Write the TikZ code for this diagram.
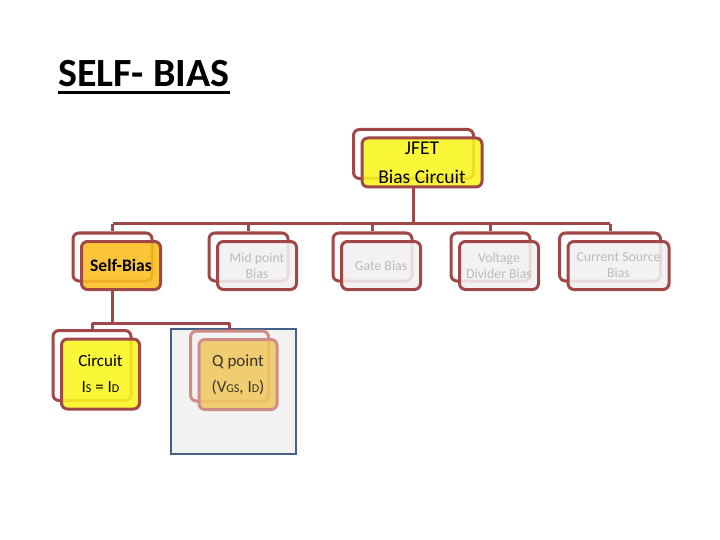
\documentclass[tikz,border=0pt]{standalone}
\usepackage{fontspec}
\setmainfont{Carlito}
\definecolor{linkred}{RGB}{160,72,72}
\definecolor{jfetyellow}{RGB}{250,246,30}
\definecolor{selforange}{RGB}{252,190,30}
\definecolor{offgray}{RGB}{242,240,240}
\definecolor{offtext}{RGB}{188,188,188}
\definecolor{qgold}{RGB}{240,200,95}
\definecolor{qrose}{RGB}{205,140,135}
\definecolor{panelblue}{RGB}{70,95,135}
\newcommand{\twinbox}[6]{%
  \node[backbox,#5,fill=none,minimum width=#3,minimum height=#4] (#1back) at #2 {};%
  \node[frontbox,#5,minimum width=#3,minimum height=#4,shift={(8.5,8.5)}] (#1) at #2 {#6};%
}
\tikzset{
  backbox/.style={draw=linkred,line width=3,rounded corners=6,inner sep=0},
  frontbox/.style={draw=linkred,line width=3,rounded corners=6,inner sep=0,
    fill opacity=0.88,text opacity=1,align=center},
  toplevel/.style={fill=jfetyellow,font=\fontsize{19.5}{29}\selectfont},
  chosen/.style={fill=selforange,font=\bfseries\fontsize{17.5}{18}\selectfont},
  unused/.style={fill=offgray,text=offtext,font=\fontsize{13.8}{16}\selectfont},
  leafbox/.style={fill=jfetyellow,font=\fontsize{17}{26}\selectfont},
  qbox/.style={fill=qgold,draw=qrose,text={rgb,255:red,60;green,50;blue,40},font=\fontsize{17}{26}\selectfont},
  link/.style={draw=linkred,line width=3}
}
\begin{document}
\begin{tikzpicture}[x=1pt,y=-1pt]
  \fill[white] (0,0) rectangle (720,540);
  \useasboundingbox (0,0) rectangle (720,540);
  \node[anchor=base west,inner sep=0,font=\bfseries\fontsize{40}{40}\selectfont] (title) at (58,87) {SELF- BIAS};
  \draw[line width=3] ([yshift=-6pt]title.base west) -- ([yshift=-6pt]title.base east);
  \draw[draw=panelblue,fill={rgb,255:red,242;green,242;blue,242},line width=2.5] (171,329) rectangle (296,454);
  \twinbox{jfet}{(413.5,154)}{120}{49}{toplevel}{JFET\\Bias Circuit}
  \twinbox{self}{(112.5,257)}{79}{48}{chosen}{Self-Bias}
  \twinbox{mid}{(248.5,257)}{79}{48}{unused}{Mid point\\Bias}
  \twinbox{gate}{(372.5,257)}{79}{48}{unused}{Gate Bias}
  \twinbox{volt}{(490.5,257)}{79}{48}{unused}{Voltage\\Divider Bias}
  \twinbox{curr}{(610,257)}{101}{48}{unused}{Current Source\\Bias}
  \twinbox{circ}{(92,365.5)}{78}{70}{leafbox}{Circuit\\I{\fontsize{12}{12}\selectfont S} = I{\fontsize{12}{12}\selectfont D}}
  \twinbox{qpt}{(229.5,366)}{78}{70}{qbox}{Q point\\(V{\fontsize{12}{12}\selectfont GS}, I{\fontsize{12}{12}\selectfont D})}
  \coordinate (bus) at (0,224);
  \coordinate (subbus) at (0,323);
  \draw[link] (jfetback |- jfet.south) -- (jfetback |- bus);
  \draw[link] (selfback |- bus) -- (currback |- bus);
  \foreach \n in {self,mid,gate,volt,curr}
    \draw[link] (\n back |- bus) -- (\n back.north);
  \draw[link] (selfback |- self.south) -- (selfback |- subbus);
  \draw[link] (circback |- subbus) -- (qptback |- subbus);
  \foreach \n in {circ,qpt}
    \draw[link] (\n back |- subbus) -- (\n back.north);
\end{tikzpicture}
\end{document}
